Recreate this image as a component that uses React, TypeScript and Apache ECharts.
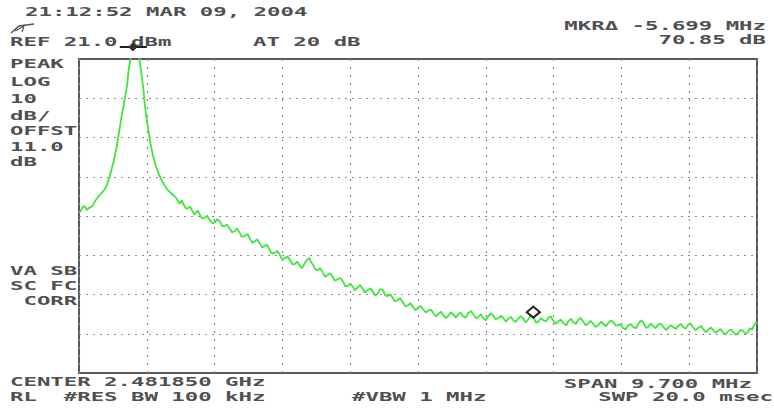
import React, { useEffect, useRef } from "react";
import * as echarts from "echarts";

// Spectrum analyzer settings
const REF_LEVEL = 21.0; // dBm
const DB_PER_DIV = 10;
const V_DIVS = 8;
const SPAN_MHZ = 9.7;
const H_DIVS = 10;

// Trace samples: [frequency offset from centre (MHz), level (dBm)]
const tracePoints: [number, number][] = [
  [-4.85, -18.2], [-4.82, -17.5], [-4.79, -16.5], [-4.76, -16.7], [-4.74, -17.5], [-4.71, -17.0],
  [-4.66, -16.5], [-4.62, -15.2], [-4.58, -14.2], [-4.54, -13.4], [-4.49, -12.4], [-4.45, -11.1],
  [-4.41, -8.8], [-4.36, -5.5], [-4.32, -2.2], [-4.28, 1.9], [-4.24, 6.5], [-4.19, 11.3],
  [-4.16, 14.6], [-4.14, 18.2], [-4.11, 21.3], [-4.08, 22.8], [-4.05, 23.3], [-4.02, 22.8],
  [-3.99, 21.3], [-3.96, 17.7], [-3.93, 13.6], [-3.91, 9.5], [-3.88, 5.5], [-3.85, 1.9],
  [-3.82, -1.2], [-3.79, -3.7], [-3.75, -6.3], [-3.71, -8.3], [-3.66, -10.1], [-3.62, -11.4],
  [-3.58, -12.4], [-3.52, -13.4], [-3.46, -14.4],
  [-3.41, -15.9], [-3.38, -15.0], [-3.35, -16.2], [-3.32, -17.1], [-3.29, -17.0], [-3.26, -16.6],
  [-3.23, -17.7], [-3.2, -18.6], [-3.18, -18.2], [-3.15, -17.6], [-3.12, -18.7], [-3.09, -19.6],
  [-3.05, -19.5], [-3.02, -18.9], [-2.98, -20.0], [-2.94, -20.9], [-2.9, -20.5], [-2.87, -19.8],
  [-2.83, -20.5], [-2.8, -21.6], [-2.76, -21.5], [-2.73, -21.2], [-2.69, -22.3], [-2.66, -23.2],
  [-2.62, -22.8], [-2.59, -22.2], [-2.55, -23.3], [-2.52, -24.3], [-2.48, -24.1], [-2.44, -23.6],
  [-2.4, -24.9], [-2.37, -25.8], [-2.33, -25.4], [-2.3, -24.9], [-2.26, -26.1], [-2.23, -27.0],
  [-2.19, -26.6], [-2.16, -26.3], [-2.12, -27.7], [-2.09, -28.6], [-2.05, -28.4], [-2.01, -27.9],
  [-1.97, -29.2], [-1.94, -30.1], [-1.9, -29.7], [-1.87, -29.3], [-1.83, -30.2], [-1.8, -31.3],
  [-1.76, -31.2], [-1.73, -30.6], [-1.69, -31.7], [-1.66, -32.3], [-1.62, -31.0], [-1.59, -30.2],
  [-1.55, -29.7], [-1.53, -30.8], [-1.5, -31.5], [-1.47, -32.6], [-1.43, -32.8], [-1.4, -32.3],
  [-1.36, -33.5], [-1.33, -34.5], [-1.29, -34.0], [-1.26, -33.6], [-1.22, -34.5], [-1.19, -35.5],
  [-1.15, -35.1], [-1.11, -34.8], [-1.07, -35.8], [-1.04, -36.9], [-1.0, -36.8], [-0.97, -36.2],
  [-0.93, -37.1], [-0.9, -37.9], [-0.86, -37.1], [-0.83, -36.6], [-0.79, -37.6], [-0.76, -38.5],
  [-0.72, -37.9], [-0.68, -37.4], [-0.64, -38.4], [-0.61, -39.3], [-0.57, -38.6], [-0.54, -37.6],
  [-0.5, -37.9], [-0.47, -39.2], [-0.43, -39.4], [-0.4, -38.9], [-0.36, -39.9], [-0.33, -40.8],
  [-0.29, -40.4], [-0.26, -39.9], [-0.22, -40.9], [-0.18, -42.0], [-0.14, -41.7], [-0.11, -41.2],
  [-0.07, -42.2], [-0.04, -43.0], [0.0, -42.4], [0.04, -41.9], [0.07, -42.7], [0.11, -43.6],
  [0.14, -43.2], [0.18, -42.8], [0.22, -43.7], [0.26, -44.6], [0.29, -44.0], [0.33, -43.4],
  [0.36, -44.2], [0.4, -45.0], [0.43, -44.5], [0.47, -43.5], [0.5, -44.0], [0.54, -44.9],
  [0.57, -44.2], [0.61, -43.6], [0.64, -44.5], [0.68, -44.9], [0.72, -43.7], [0.76, -43.2],
  [0.79, -44.0], [0.83, -45.1], [0.86, -44.7], [0.9, -44.1], [0.93, -45.0], [0.97, -45.6],
  [1.0, -44.7], [1.04, -43.8], [1.07, -44.2], [1.11, -45.3], [1.15, -45.0], [1.19, -44.4],
  [1.22, -45.0], [1.26, -45.9], [1.29, -45.2], [1.33, -44.7], [1.36, -45.5], [1.4, -46.0],
  [1.43, -45.2], [1.47, -44.5], [1.5, -45.0], [1.54, -46.1], [1.57, -45.5], [1.61, -44.4],
  [1.65, -44.7], [1.69, -46.2], [1.72, -46.0], [1.76, -45.0], [1.79, -45.5], [1.83, -45.9],
  [1.86, -45.0], [1.9, -44.6], [1.93, -45.5], [1.97, -46.5], [2.0, -46.0], [2.04, -45.4],
  [2.08, -46.3], [2.12, -46.9], [2.15, -45.8], [2.19, -45.2], [2.22, -46.0], [2.26, -46.5],
  [2.29, -45.5], [2.33, -45.0], [2.36, -45.8], [2.4, -46.8], [2.43, -46.5], [2.47, -45.7],
  [2.5, -46.3], [2.54, -47.3], [2.58, -46.8], [2.62, -45.9], [2.65, -46.5], [2.69, -47.1],
  [2.72, -46.3], [2.76, -45.6], [2.79, -46.0], [2.83, -46.9], [2.86, -46.8], [2.9, -46.6],
  [2.93, -47.5], [2.97, -47.9], [3.0, -47.0], [3.04, -46.5], [3.08, -47.3], [3.12, -47.6],
  [3.15, -46.5], [3.19, -45.6], [3.22, -46.0], [3.26, -47.5], [3.29, -47.3], [3.33, -46.4],
  [3.36, -47.0], [3.4, -47.6], [3.43, -46.8], [3.47, -46.4], [3.51, -47.3], [3.55, -48.1],
  [3.58, -47.5], [3.62, -46.8], [3.65, -47.3], [3.69, -47.8], [3.72, -47.0], [3.76, -46.5],
  [3.79, -47.3], [3.83, -47.7], [3.86, -46.8], [3.9, -46.4], [3.93, -47.3], [3.97, -48.1],
  [4.01, -47.5], [4.05, -47.0], [4.08, -47.8], [4.12, -48.6], [4.15, -48.0], [4.19, -47.4],
  [4.22, -48.0], [4.26, -48.8], [4.29, -48.3], [4.33, -47.8], [4.36, -48.6], [4.4, -49.2],
  [4.44, -48.3], [4.48, -47.9], [4.51, -48.6], [4.55, -49.3], [4.58, -48.8], [4.62, -48.0],
  [4.65, -48.3], [4.69, -49.1], [4.72, -48.6], [4.75, -47.6], [4.78, -48.0], [4.8, -47.0],
  [4.82, -46.5], [4.85, -46.0],
];
const freqs = tracePoints.map((p) => p[0]);
const levels = tracePoints.map((p) => p[1]);

// Markers
const peakMarker = { freq: -4.08, level: 21.0 };
const deltaMarker = { freq: 1.65, level: -43.5 };

// Screen annotations
const headerLeft = ["21:12:52 MAR 09, 2004"];
const refText = "REF 21.0 dBm";
const attenText = "AT 20 dB";
const markerTexts = ["MKR\u0394 -5.699 MHz", "70.85 dB"];
const sideTextsTop = ["PEAK", "LOG", "10", "dB/", "OFFST", "11.0", "dB"];
const sideTextsBottom = ["VA SB", "SC FC", " CORR"];
const footerLeft = ["CENTER 2.481850 GHz", "RL  #RES BW 100 kHz"];
const footerMid = "#VBW 1 MHz";
const footerRight = ["SPAN 9.700 MHz", "SWP 20.0 msec"];

const TEXT_COLOR = "#505050";
const FONT = 'bold 13px "DejaVu Sans Mono"';
const SX = 1.72;

function txt(text: string, x: number, y: number, align: string = "left") {
  return {
    type: "text",
    x,
    y: y - 3,
    scaleX: SX,
    silent: true,
    style: {
      text,
      x: 0,
      y: 0,
      fill: TEXT_COLOR,
      font: FONT,
      textAlign: align,
      align,
      textVerticalAlign: "top",
      verticalAlign: "top",
    },
  };
}

export default function App() {
  const ref = useRef<HTMLDivElement>(null);

  useEffect(() => {
    if (!ref.current) return;
    const chart = echarts.init(ref.current, null, { renderer: "svg" });
    const half = SPAN_MHZ / 2;
    const bottom = REF_LEVEL - DB_PER_DIV * V_DIVS;
    const hLines: any[] = [];
    for (let k = 1; k < V_DIVS; k++) hLines.push({ yAxis: REF_LEVEL - k * DB_PER_DIV });

    const sideTop = [60, 78, 95, 112, 127, 143, 158];
    const sideBot = [267, 282, 297];

    const graphics: any[] = [
      txt(headerLeft[0], 25, 8),
      txt(refText, 10, 38),
      txt(attenText, 253, 38),
      txt(markerTexts[0], 766, 22, "right"),
      txt(markerTexts[1], 766, 36, "right"),
      ...sideTextsTop.map((t, i) => txt(t, 10, sideTop[i])),
      ...sideTextsBottom.map((t, i) => txt(t, 10, sideBot[i])),
      txt(footerLeft[0], 10, 378),
      txt(footerLeft[1], 10, 393),
      txt(footerMid, 352, 393),
      txt(footerRight[0], 752, 380, "right"),
      txt(footerRight[1], 773, 393, "right"),
      {
        type: "polyline",
        silent: true,
        shape: { points: [[11, 33], [19, 26], [34, 24]] },
        style: { stroke: "#555", lineWidth: 1.5, fill: "none" },
      },
      {
        type: "polyline",
        silent: true,
        shape: { points: [[15, 31], [24, 26], [22, 32]] },
        style: { stroke: "#555", lineWidth: 1.2, fill: "none" },
      },
    ];

    chart.setOption({
      animation: false,
      backgroundColor: "#ffffff",
      grid: {
        left: 79,
        top: 59,
        width: 678,
        height: 314,
        show: true,
        borderColor: "#5a5a5a",
        borderWidth: 2,
        backgroundColor: "transparent",
      },
      xAxis: {
        type: "value",
        min: -half,
        max: half,
        interval: SPAN_MHZ / H_DIVS,
        axisLine: { show: false },
        axisTick: { show: false },
        axisLabel: { show: false },
        splitLine: {
          show: true,
          lineStyle: { color: "#8a8a8a", type: [2, 6], width: 1.2 },
        },
      },
      yAxis: {
        type: "value",
        min: bottom,
        max: REF_LEVEL,
        axisLine: { show: false },
        axisTick: { show: false },
        axisLabel: { show: false },
        splitLine: { show: false },
      },
      graphic: graphics,
      series: [
        {
          type: "line",
          data: freqs.map((f, i) => [f, levels[i]]),
          showSymbol: false,
          clip: true,
          lineStyle: { color: "#3ee63e", width: 1.8 },
          z: 3,
          markLine: {
            silent: true,
            symbol: "none",
            label: { show: false },
            lineStyle: { color: "#8a8a8a", type: [2, 5], width: 1.2 },
            data: hLines,
            z: 1,
          },
          markPoint: {
            silent: true,
            label: { show: false },
            data: [
              {
                coord: [deltaMarker.freq, deltaMarker.level],
                symbol: "diamond",
                symbolSize: [13, 11],
                itemStyle: { color: "rgba(0,0,0,0)", borderColor: "#222", borderWidth: 2 },
              },
            ],
          },
        },
      ],
    });

    // Peak marker drawn just above the screen top, positioned through the axes
    const [px, py] = chart.convertToPixel({ gridIndex: 0 }, [peakMarker.freq, peakMarker.level]) as number[];
    const my = py - 12;
    chart.setOption({
      graphic: [
        ...graphics,
        {
          type: "line",
          silent: true,
          shape: { x1: px - 13, y1: my, x2: px + 14, y2: my },
          style: { stroke: "#222", lineWidth: 2 },
        },
        {
          type: "polygon",
          silent: true,
          shape: { points: [[px, my - 4], [px + 4, my], [px, my + 4], [px - 4, my]] },
          style: { fill: "#333", stroke: "#222", lineWidth: 1 },
        },
      ],
    });
    return () => chart.dispose();
  }, []);

  return (
    <div
      ref={ref}
      style={{ position: "fixed", left: 0, top: 0, width: 774, height: 411, background: "#fff" }}
    />
  );
}
